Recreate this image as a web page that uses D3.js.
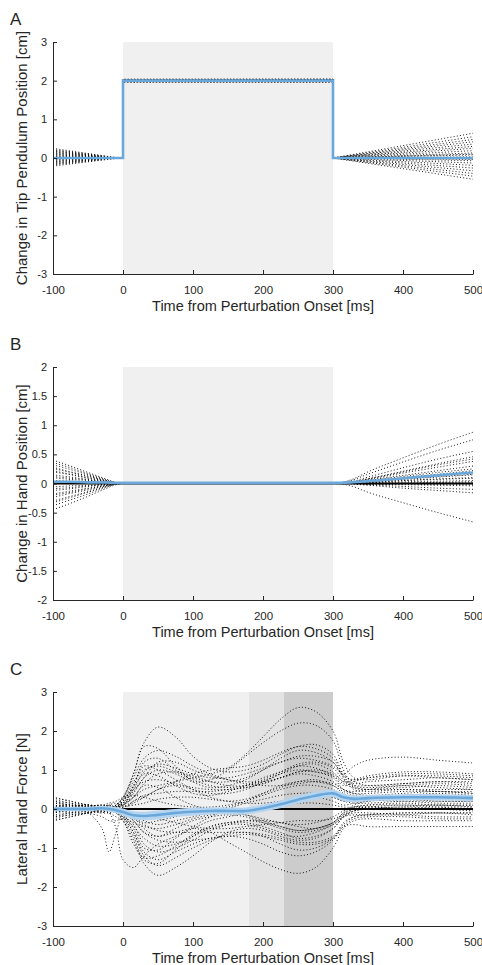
<!DOCTYPE html>
<html><head><meta charset="utf-8">
<script src="https://cdn.jsdelivr.net/npm/d3@7"></script>
<style>
body{margin:0;background:#fff}
svg{display:block}
text{font-family:"Liberation Sans",Arial,Helvetica,sans-serif;fill:#262626}
</style>
</head><body>
<svg id="chart" width="482" height="965"></svg>
<script>
// ---------------- DATA ----------------
const xTicks = [-100, 0, 100, 200, 300, 400, 500];
const yTicksA = [-3, -2, -1, 0, 1, 2, 3];
const yTicksB = [-2, -1.5, -1, -0.5, 0, 0.5, 1, 1.5, 2];
const yTicksC = [-3, -2, -1, 0, 1, 2, 3];

const shadeAB = [[0, 300]];
const shadeC = [[0, 180], [180, 230], [230, 300]];

// Panel A: tip pendulum position (time points incl. steps at 0 and 300)
const tA = [-100, -10, 0, 0, 300, 300, 500];
const tracesA = [
  [0.22, 0.01, 0, 2.03, 2.03, 0, 0.64],
  [0.18, 0, 0, 1.98, 1.99, 0, 0.55],
  [0.25, 0.01, 0, 2.01, 2.02, 0, 0.48],
  [0.14, 0, 0, 1.97, 1.97, 0, 0.42],
  [0.10, 0, 0, 2.04, 2.04, 0, 0.36],
  [0.06, 0, 0, 1.99, 2.00, 0, 0.30],
  [0.02, 0, 0, 2.02, 2.01, 0, 0.25],
  [-0.02, 0, 0, 1.96, 1.97, 0, 0.19],
  [-0.06, 0, 0, 2.00, 2.00, 0, 0.13],
  [-0.10, 0, 0, 2.03, 2.04, 0, 0.08],
  [-0.14, 0, 0, 1.98, 1.98, 0, 0.03],
  [-0.18, -0.01, 0, 2.01, 2.00, 0, -0.02],
  [-0.21, -0.01, 0, 1.97, 1.96, 0, -0.07],
  [0.20, 0, 0, 2.00, 2.01, 0, -0.13],
  [-0.16, 0, 0, 2.02, 2.03, 0, -0.19],
  [0.12, 0, 0, 1.99, 1.98, 0, -0.26],
  [-0.08, 0, 0, 2.01, 2.02, 0, -0.33],
  [0.04, 0, 0, 1.98, 1.99, 0, -0.40],
  [-0.04, 0, 0, 2.03, 2.02, 0, -0.47],
  [0.08, 0, 0, 2.00, 2.00, 0, -0.55],
  [0.16, 0, 0, 2.02, 2.02, 0, 0.10],
  [-0.12, 0, 0, 1.99, 1.99, 0, -0.04]
];
const meanA = [0, 0, 0, 2, 2, 0, 0];
const refA = [0, 0, 0, 2, 2, 0, 0];

// Panel B: hand position
const tB = [-100, -75, -50, -25, -10, 0, 150, 300, 325, 350, 400, 450, 500];
const tracesB = [
  [0.40, 0.30, 0.19, 0.08, 0.02, 0, 0, 0, 0.06, 0.20, 0.44, 0.67, 0.88],
  [0.32, 0.24, 0.15, 0.06, 0.01, 0, 0, 0, 0.05, 0.16, 0.37, 0.57, 0.75],
  [-0.45, -0.34, -0.22, -0.09, -0.02, 0, 0, 0, -0.04, -0.15, -0.33, -0.50, -0.66],
  [0.36, 0.27, 0.17, 0.07, 0.01, 0, 0, 0, 0.03, 0.11, 0.27, 0.42, 0.55],
  [-0.38, -0.28, -0.18, -0.07, -0.01, 0, 0, 0, 0.02, 0.08, 0.21, 0.34, 0.46],
  [0.26, 0.19, 0.12, 0.05, 0.01, 0, 0, 0, 0.02, 0.07, 0.18, 0.28, 0.38],
  [-0.30, -0.22, -0.14, -0.05, -0.01, 0, 0, 0, 0.02, 0.06, 0.14, 0.22, 0.30],
  [0.20, 0.15, 0.09, 0.04, 0.01, 0, 0, 0, 0.01, 0.05, 0.12, 0.19, 0.25],
  [-0.24, -0.17, -0.11, -0.04, -0.01, 0, 0, 0, 0.01, 0.04, 0.09, 0.14, 0.19],
  [0.15, 0.11, 0.07, 0.03, 0, 0, 0, 0, 0.01, 0.03, 0.07, 0.11, 0.15],
  [-0.18, -0.13, -0.08, -0.03, 0, 0, 0, 0, 0.01, 0.02, 0.05, 0.08, 0.10],
  [0.10, 0.07, 0.05, 0.02, 0, 0, 0, 0, 0, 0.01, 0.03, 0.04, 0.05],
  [-0.12, -0.09, -0.05, -0.02, 0, 0, 0, 0, 0, 0, 0.01, 0.01, 0.01],
  [0.05, 0.04, 0.02, 0.01, 0, 0, 0, 0, 0, -0.01, -0.02, -0.03, -0.04],
  [-0.06, -0.04, -0.03, -0.01, 0, 0, 0, 0, 0, -0.02, -0.05, -0.08, -0.10],
  [0.00, 0, 0, 0, 0, 0, 0, 0, -0.01, -0.03, -0.08, -0.12, -0.16],
  [0.28, 0.20, 0.13, 0.05, 0.01, 0, 0, 0, 0.01, 0.03, 0.08, 0.12, 0.16],
  [-0.33, -0.24, -0.15, -0.06, -0.01, 0, 0, 0, 0, 0.03, 0.10, 0.16, 0.22],
  [0.22, 0.16, 0.10, 0.04, 0.01, 0, 0, 0, 0.02, 0.08, 0.20, 0.32, 0.42],
  [-0.20, -0.15, -0.09, -0.04, -0.01, 0, 0, 0, 0, -0.01, 0, 0.02, 0.03],
  [0.12, 0.09, 0.06, 0.02, 0, 0, 0, 0, 0, 0.02, 0.05, 0.07, 0.09],
  [-0.09, -0.07, -0.04, -0.02, 0, 0, 0, 0, 0, -0.01, -0.01, -0.02, -0.02]
];
const meanB = [0.03, 0.03, 0.02, 0.02, 0.01, 0.01, 0.01, 0.01, 0.02, 0.04, 0.09, 0.14, 0.19];
const refB = [0, 0, 0, 0, 0, 0, 0, 0, 0, 0, 0, 0, 0];

// Panel C: lateral hand force
const tC = [-100, -75, -50, -30, -20, -10, 0, 15, 30, 50, 75, 100, 125, 150, 175, 200, 225, 250, 275, 300, 315, 330, 350, 400, 450, 500];
const tracesC = [
  [0.05, 0.1, 0.05, 0, -0.05, 0.05, 0.15, 0.3, 0.5, 0.6, 0.7, 0.8, 0.9, 1.05, 1.4, 1.85, 2.3, 2.6, 2.5, 2.0, 1.2, 0.8, 0.75, 0.85, 0.8, 0.75],
  [-0.1, 0, 0.05, 0.1, 0, 0.1, 0.3, 0.9, 1.7, 2.1, 1.85, 1.35, 1.05, 0.95, 1.0, 1.15, 1.4, 1.6, 1.65, 1.4, 0.9, 0.7, 0.6, 0.65, 0.7, 0.7],
  [0.2, 0.1, 0, 0.05, 0.1, 0.05, 0.1, 0.4, 0.8, 1.0, 0.9, 0.7, 0.75, 1.0, 1.35, 1.7, 2.0, 2.2, 2.15, 1.75, 1.0, 0.6, 0.55, 0.6, 0.55, 0.5],
  [0, -0.1, -0.05, 0, 0.05, 0.05, 0.25, 0.9, 1.6, 1.55, 1.1, 0.7, 0.55, 0.6, 0.75, 1.0, 1.3, 1.5, 1.45, 1.2, 0.8, 0.5, 0.45, 0.5, 0.45, 0.4],
  [0.1, 0.05, 0, -0.05, 0, -0.1, -0.3, -0.8, -1.4, -1.7, -1.5, -1.2, -0.85, -0.6, -0.5, -0.55, -0.7, -0.8, -0.75, -0.5, -0.2, 0, 0.05, 0.1, 0.05, 0],
  [-0.1, 0, 0.05, 0, -0.05, 0, -0.1, -0.3, -0.6, -0.7, -0.6, -0.5, -0.6, -0.85, -1.1, -1.35, -1.55, -1.65, -1.5, -1.0, -0.5, -0.3, -0.25, -0.3, -0.3, -0.3],
  [0.05, 0, -0.1, -0.5, -1.1, -0.6, -0.1, 0.2, 0.3, 0.5, 0.6, 0.5, 0.4, 0.4, 0.5, 0.7, 0.9, 1.0, 0.95, 0.8, 0.5, 0.4, 0.35, 0.4, 0.45, 0.4],
  [0, 0.05, 0, -0.05, -0.1, -0.5, -1.3, -1.5, -1.2, -0.9, -0.7, -0.5, -0.3, -0.2, -0.1, 0, 0.1, 0.2, 0.3, 0.2, 0.1, 0.15, 0.2, 0.25, 0.2, 0.2],
  [0.2, 0.15, 0.1, 0.05, 0, 0.05, 0.2, 0.6, 1.2, 1.3, 1.0, 0.8, 0.7, 0.7, 0.8, 1.0, 1.2, 1.3, 1.25, 1.1, 0.9, 1.1, 1.25, 1.33, 1.25, 1.18],
  [-0.2, -0.1, 0, 0.05, 0, -0.05, -0.2, -0.6, -1.1, -1.3, -1.1, -0.9, -0.75, -0.7, -0.75, -0.9, -1.1, -1.2, -1.1, -0.8, -0.45, -0.4, -0.45, -0.45, -0.45, -0.45],
  [0.1, 0.05, 0.1, 0.05, 0, 0, 0.15, 0.5, 0.9, 0.85, 0.6, 0.4, 0.35, 0.45, 0.6, 0.8, 0.95, 1.1, 1.05, 0.85, 0.6, 0.7, 0.8, 0.9, 0.9, 0.85],
  [0, 0, -0.05, 0, 0.05, 0, -0.15, -0.4, -0.9, -1.1, -1.0, -0.8, -0.55, -0.4, -0.3, -0.3, -0.35, -0.45, -0.5, -0.35, -0.1, 0, 0.05, 0, 0, 0],
  [-0.05, 0.05, 0, -0.1, 0, 0.05, 0.1, 0.3, 0.6, 0.55, 0.3, 0.1, 0, 0.05, 0.2, 0.4, 0.6, 0.7, 0.7, 0.6, 0.45, 0.35, 0.3, 0.35, 0.4, 0.35],
  [0.3, 0.2, 0.1, 0.05, 0, -0.05, -0.05, -0.2, -0.5, -0.7, -0.5, -0.3, -0.2, -0.15, -0.2, -0.35, -0.5, -0.6, -0.55, -0.4, -0.2, -0.1, -0.1, -0.15, -0.2, -0.2],
  [-0.3, -0.2, -0.1, 0, 0, 0.05, 0.15, 0.45, 0.8, 1.2, 1.2, 1.0, 0.85, 0.75, 0.7, 0.7, 0.8, 0.9, 0.85, 0.7, 0.5, 0.45, 0.5, 0.6, 0.65, 0.6],
  [0, 0, 0.05, 0.1, 0.05, -0.05, -0.2, -0.6, -1.2, -1.45, -1.25, -1.0, -0.8, -0.65, -0.6, -0.7, -0.9, -1.05, -1.0, -0.75, -0.35, -0.2, -0.15, -0.1, -0.1, -0.1],
  [0.15, 0.1, 0, -0.05, 0, 0, 0.05, 0.2, 0.35, 0.4, 0.45, 0.45, 0.45, 0.5, 0.55, 0.65, 0.8, 0.95, 0.95, 0.85, 0.65, 0.55, 0.5, 0.5, 0.5, 0.5],
  [-0.15, -0.1, -0.05, 0, 0.05, 0, -0.05, -0.2, -0.35, -0.3, -0.2, -0.1, -0.05, 0, 0, 0.05, 0.1, 0.15, 0.15, 0.1, 0.05, 0.05, 0.1, 0.1, 0.1, 0.1],
  [0.05, 0, 0, 0.05, 0, 0.1, 0.3, 0.8, 1.3, 1.5, 1.35, 1.1, 0.9, 0.75, 0.65, 0.6, 0.6, 0.65, 0.7, 0.65, 0.5, 0.4, 0.4, 0.45, 0.45, 0.45],
  [0, 0.05, 0.1, 0.05, 0, -0.05, -0.15, -0.5, -1.0, -1.05, -0.75, -0.45, -0.2, 0, 0.15, 0.25, 0.35, 0.4, 0.4, 0.3, 0.2, 0.2, 0.25, 0.25, 0.3, 0.3],
  [0.1, 0.05, 0, 0, 0.05, 0, 0.05, 0.1, 0.15, 0.25, 0.3, 0.3, 0.25, 0.2, 0.25, 0.4, 0.55, 0.7, 0.75, 0.6, 0.4, 0.3, 0.3, 0.35, 0.35, 0.3],
  [-0.1, -0.05, 0, 0, 0, 0, -0.1, -0.3, -0.6, -0.8, -0.85, -0.8, -0.75, -0.7, -0.65, -0.7, -0.8, -0.9, -0.9, -0.75, -0.45, -0.25, -0.2, -0.2, -0.25, -0.25],
  [0.25, 0.15, 0.05, 0, 0, 0.05, 0.2, 0.6, 1.1, 1.0, 0.75, 0.5, 0.3, 0.2, 0.15, 0.15, 0.2, 0.3, 0.35, 0.3, 0.2, 0.15, 0.15, 0.2, 0.2, 0.2],
  [-0.25, -0.15, -0.1, -0.05, 0, -0.1, -0.25, -0.7, -1.3, -1.4, -1.05, -0.7, -0.45, -0.35, -0.35, -0.45, -0.6, -0.75, -0.7, -0.5, -0.2, -0.05, 0, 0.05, 0, -0.05],
  [0, 0, 0, 0.05, 0.1, 0.05, 0.1, 0.3, 0.65, 0.9, 0.95, 0.85, 0.7, 0.6, 0.6, 0.7, 0.9, 1.1, 1.15, 0.95, 0.7, 0.75, 0.85, 0.95, 0.95, 0.9],
  [0.05, 0.1, 0.05, 0, -0.05, 0, -0.05, -0.1, -0.2, -0.25, -0.35, -0.45, -0.5, -0.5, -0.45, -0.4, -0.35, -0.3, -0.3, -0.25, -0.15, -0.05, 0, 0, 0.05, 0.05],
  [0, -0.05, 0, 0.05, 0, 0, 0.05, 0.15, 0.3, 0.5, 0.7, 0.9, 1.0, 1.05, 1.1, 1.25, 1.45, 1.6, 1.55, 1.3, 0.85, 0.55, 0.5, 0.55, 0.6, 0.55],
  [-0.05, 0, 0.05, 0, 0, 0, -0.05, -0.15, -0.3, -0.4, -0.3, -0.2, -0.1, -0.1, -0.15, -0.3, -0.45, -0.55, -0.5, -0.35, -0.1, 0.1, 0.2, 0.2, 0.15, 0.15],
  [0.3, 0.2, 0.1, 0, 0.05, 0.1, 0.2, 0.7, 1.0, 1.1, 0.95, 0.75, 0.6, 0.55, 0.6, 0.75, 0.95, 1.15, 1.2, 1.05, 0.75, 0.65, 0.7, 0.75, 0.8, 0.75],
  [-0.2, -0.15, -0.1, -0.05, -0.1, -0.2, -0.3, -0.9, -1.25, -1.2, -0.95, -0.65, -0.45, -0.35, -0.3, -0.35, -0.45, -0.55, -0.5, -0.35, -0.15, 0.05, 0.1, 0.15, 0.1, 0.1],
  [0, 0.05, 0.1, 0.05, 0, 0.1, 0.25, 0.5, 0.7, 0.75, 0.65, 0.55, 0.5, 0.5, 0.55, 0.65, 0.8, 0.95, 1.0, 0.9, 0.7, 0.6, 0.6, 0.65, 0.7, 0.65],
  [0.1, 0, -0.1, -0.2, -0.3, -0.3, -0.25, -0.45, -0.75, -0.95, -0.9, -0.7, -0.5, -0.4, -0.4, -0.5, -0.65, -0.7, -0.6, -0.4, -0.2, -0.15, -0.15, -0.15, -0.1, -0.15],
  [-0.1, 0, 0.05, 0.1, 0.15, 0.2, 0.3, 0.35, 0.3, 0.2, 0.1, 0.05, 0.05, 0.1, 0.2, 0.35, 0.5, 0.6, 0.6, 0.5, 0.35, 0.3, 0.3, 0.3, 0.3, 0.3],
  [0.15, 0.1, 0.05, 0, -0.05, -0.1, -0.2, -0.35, -0.45, -0.5, -0.4, -0.25, -0.15, -0.1, -0.15, -0.25, -0.35, -0.4, -0.35, -0.2, -0.05, 0.05, 0.05, 0.05, 0.1, 0.05],
  [-0.3, -0.2, -0.1, 0, 0.1, 0.15, 0.1, 0.55, 0.95, 1.15, 1.05, 0.9, 0.8, 0.8, 0.9, 1.05, 1.2, 1.35, 1.35, 1.2, 0.85, 0.75, 0.8, 0.85, 0.85, 0.8],
  [0.05, 0, -0.05, -0.1, -0.1, -0.05, -0.1, -0.25, -0.4, -0.55, -0.6, -0.6, -0.6, -0.6, -0.6, -0.65, -0.75, -0.85, -0.85, -0.7, -0.4, -0.2, -0.15, -0.1, -0.1, -0.1]
];
const meanC = [0, 0, 0, 0.02, 0, -0.03, -0.08, -0.16, -0.18, -0.15, -0.1, -0.07, -0.05, -0.05, -0.05, 0.02, 0.12, 0.24, 0.34, 0.4, 0.3, 0.26, 0.28, 0.3, 0.3, 0.28];
const bandC = [0.06, 0.06, 0.06, 0.06, 0.07, 0.08, 0.09, 0.1, 0.11, 0.11, 0.1, 0.1, 0.09, 0.09, 0.09, 0.09, 0.1, 0.1, 0.1, 0.1, 0.1, 0.09, 0.08, 0.08, 0.08, 0.08];
const refC = tC.map(() => 0);

// ---------------- DRAWING ----------------
const svg = d3.select('#chart');
const X0 = 53, X1 = 473;
const ink = '#262626';
const blue = '#6aa8dc';
const blueBand = '#b5d4ef';

const panels = [
  {letter: 'A', top: 42, bottom: 274, domain: [-3, 3], ticks: yTicksA, ylabel: 'Change in Tip Pendulum Position [cm]',
   t: tA, traces: tracesA, mean: meanA, ref: refA, shades: shadeAB, shadeFill: ['#f0f0f0'], curve: d3.curveLinear},
  {letter: 'B', top: 367, bottom: 600, domain: [-2, 2], ticks: yTicksB, ylabel: 'Change in Hand Position [cm]',
   t: tB, traces: tracesB, mean: meanB, ref: refB, shades: shadeAB, shadeFill: ['#f0f0f0'], curve: d3.curveMonotoneX},
  {letter: 'C', top: 692, bottom: 926, domain: [-3, 3], ticks: yTicksC, ylabel: 'Lateral Hand Force [N]',
   t: tC, traces: tracesC, mean: meanC, band: bandC, ref: refC, shades: shadeC, shadeFill: ['#f0f0f0', '#e3e3e3', '#cccccc'], curve: d3.curveCatmullRom}
];

const x = d3.scaleLinear().domain([-100, 500]).range([X0, X1]);

panels.forEach(p => {
  const y = d3.scaleLinear().domain(p.domain).range([p.bottom, p.top]);
  const g = svg.append('g');

  g.selectAll('rect.shade').data(p.shades).join('rect')
    .attr('x', d => x(d[0])).attr('width', d => x(d[1]) - x(d[0]))
    .attr('y', p.top).attr('height', p.bottom - p.top)
    .attr('fill', (d, i) => p.shadeFill[i]);

  const line = d3.line().x((d, i) => x(p.t[i])).y(d => y(d)).curve(p.curve);

  g.selectAll('path.trial').data(p.traces).join('path')
    .attr('d', d => line(d))
    .attr('fill', 'none').attr('stroke', '#000').attr('stroke-width', 1)
    .attr('stroke-dasharray', '1 2.2').attr('opacity', 0.9);

  g.append('path').attr('d', line(p.ref))
    .attr('fill', 'none').attr('stroke', '#000').attr('stroke-width', 2);

  if (p.band) {
    const area = d3.area().x((d, i) => x(p.t[i]))
      .y0((d, i) => y(d - p.band[i])).y1((d, i) => y(d + p.band[i])).curve(p.curve);
    g.append('path').attr('d', area(p.mean)).attr('fill', blueBand);
  }
  g.append('path').attr('d', line(p.mean))
    .attr('fill', 'none').attr('stroke', blue).attr('stroke-width', 2.6);

  const ax = g.append('g').attr('transform', `translate(0,${p.bottom})`)
    .call(d3.axisBottom(x).tickValues(xTicks).tickSize(-4).tickPadding(12).tickSizeOuter(0).tickFormat(d => String(d)));
  const ay = g.append('g').attr('transform', `translate(${X0},0)`)
    .call(d3.axisLeft(y).tickValues(p.ticks).tickSize(-4).tickPadding(6).tickSizeOuter(0).tickFormat(d => String(d)));
  [ax, ay].forEach(a => {
    a.select('.domain').attr('stroke', ink).attr('stroke-width', 1);
    a.selectAll('.tick line').attr('stroke', ink).attr('stroke-width', 1);
    a.selectAll('.tick text').attr('fill', ink)
      .style('font-family', '"Liberation Sans", Arial, sans-serif');
  });
  ax.selectAll('.tick text').style('font-size', '11.5px');
  ay.selectAll('.tick text').style('font-size', '11px');

  g.append('text').attr('x', (X0 + X1) / 2).attr('y', p.bottom + 37)
    .attr('text-anchor', 'middle').style('font-size', '14.5px')
    .text('Time from Perturbation Onset [ms]');
  g.append('text').attr('transform', `translate(26.5,${(p.top + p.bottom) / 2}) rotate(-90)`)
    .attr('text-anchor', 'middle').style('font-size', '15px')
    .text(p.ylabel);

  g.append('text').attr('x', 10).attr('y', p.top - 17)
    .style('font-size', '17px').text(p.letter);
});
</script>
</body></html>
